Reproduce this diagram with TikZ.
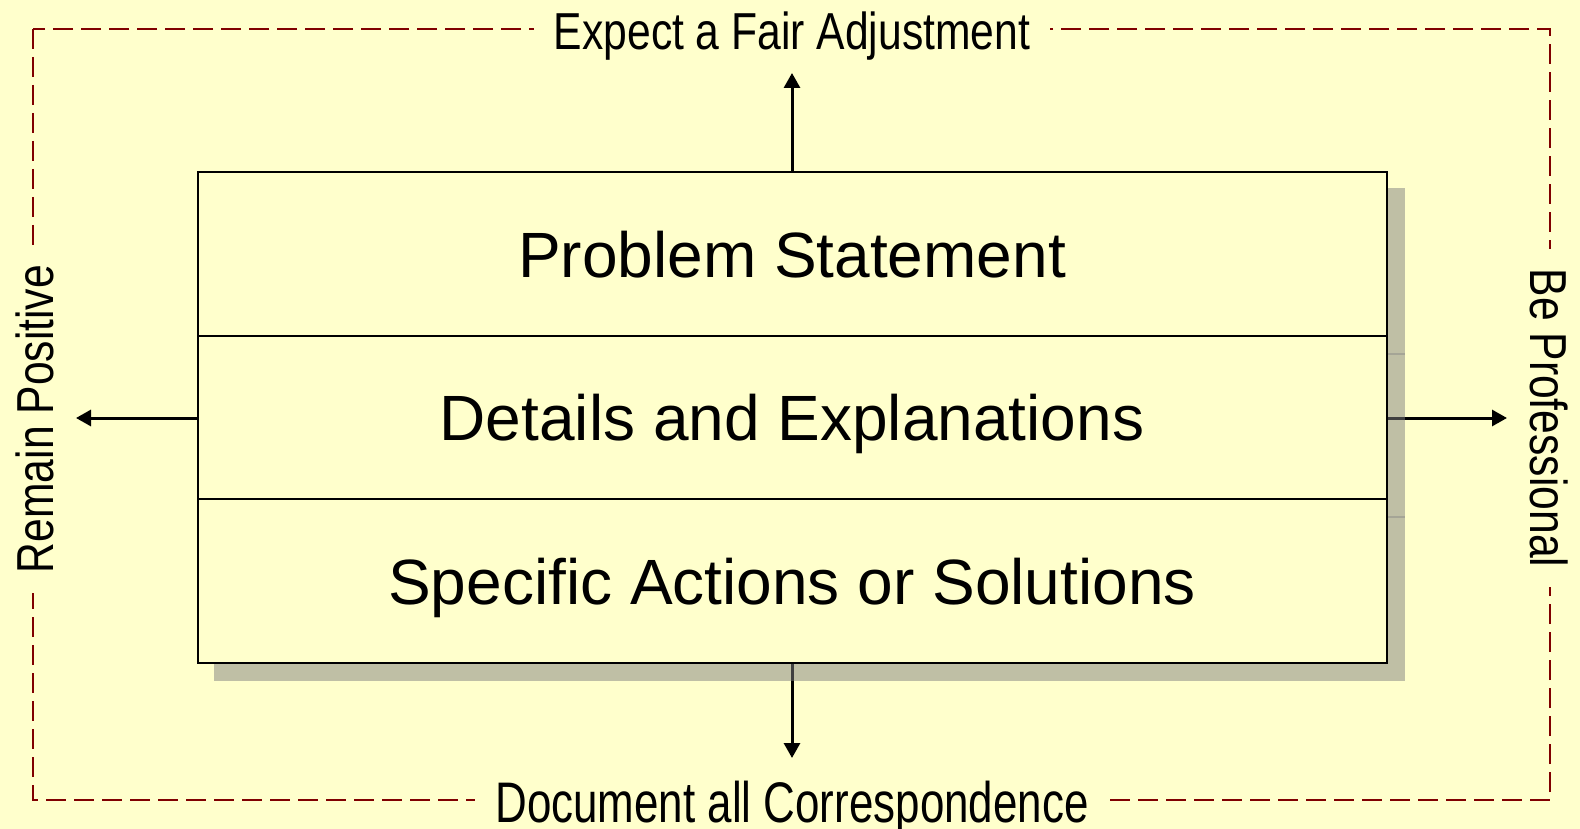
\documentclass[tikz,border=0pt]{standalone}
\usepackage{fontspec}
\usepackage{graphicx}
\setmainfont{Liberation Sans}
\newfontfamily\narrowfont[FakeStretch=0.82]{Liberation Sans}
\usetikzlibrary{arrows.meta}

\definecolor{paper}{RGB}{255,255,204}
\definecolor{framered}{RGB}{128,0,0}

\tikzset{
  rowbox/.style={draw=black, line width=2pt, fill=paper, minimum width=1189pt,
    inner sep=0pt, text height=46pt, text depth=0pt,
    font=\fontsize{64}{72}\selectfont},
  outlabel/.style={fill=paper, inner xsep=20pt, inner ysep=4pt,
    font=\narrowfont\fontsize{52}{60}\selectfont},
  pointer/.style={draw=black, line width=3pt,
    -{Triangle[length=15pt,width=16pt]}},
  frame/.style={draw=framered, line width=2.7pt, dash pattern=on 20pt off 8pt},
  dropshadow/.style={fill=gray, fill opacity=0.5, draw=none}
}

\begin{document}
\begin{tikzpicture}[x=1pt, y=-1pt]
  % page background and bounds
  \fill[paper] (0,0) rectangle (1580,829);
  \useasboundingbox (0,0) rectangle (1580,829);

  % dashed outer frame
  \draw[frame] (33,29) rectangle (1550,800);

  % four guideline labels sitting on the frame
  \node[outlabel, anchor=base] (top) at (792,49.5) {Expect a Fair Adjustment};
  \node[outlabel, anchor=base] (bottom) at (792,822)
    {\scalebox{1.03}[1.1]{Document all Correspondence}};
  \node[outlabel, anchor=base, rotate=90] (left) at (53,419) {Remain Positive};
  \node[outlabel, anchor=base, rotate=-90] (right) at (1530,418) {Be Professional};

  % the three stacked sections of the letter
  \node[rowbox, minimum height=164pt] (ps) at (792,254) {Problem Statement};
  \node[rowbox, minimum height=163pt] (de) at (792,417.5) {Details and Explanations};
  \node[rowbox, minimum height=164pt] (sa) at (792,581) {Specific Actions or Solutions};

  % arrow end points
  \coordinate (tTip) at (792,73);
  \coordinate (bTip) at (792,758);
  \coordinate (lTip) at (76,418);
  \coordinate (rTip) at (1507,418);

  \draw[pointer] (ps.north) -- (tTip);
  \draw[pointer] (sa.south) -- (bTip);
  \draw[pointer] (de.west |- lTip) -- (lTip);
  \draw[pointer] (de.east |- rTip) -- (rTip);

  % translucent drop shadow behind the stack
  \fill[dropshadow] ([shift={(17,17)}]ps.north west) rectangle ([shift={(17,17)}]sa.south east);
  \draw[gray, opacity=0.4, line width=2pt]
    ([shift={(17,17)}]ps.south west) -- ([shift={(17,17)}]ps.south east);
  \draw[gray, opacity=0.4, line width=2pt]
    ([shift={(17,17)}]de.south west) -- ([shift={(17,17)}]de.south east);

  % redraw the stack over its shadow
  \node[rowbox, minimum height=164pt] at (792,254) {Problem Statement};
  \node[rowbox, minimum height=163pt] at (792,417.5) {Details and Explanations};
  \node[rowbox, minimum height=164pt] at (792,581) {Specific Actions or Solutions};
\end{tikzpicture}
\end{document}
